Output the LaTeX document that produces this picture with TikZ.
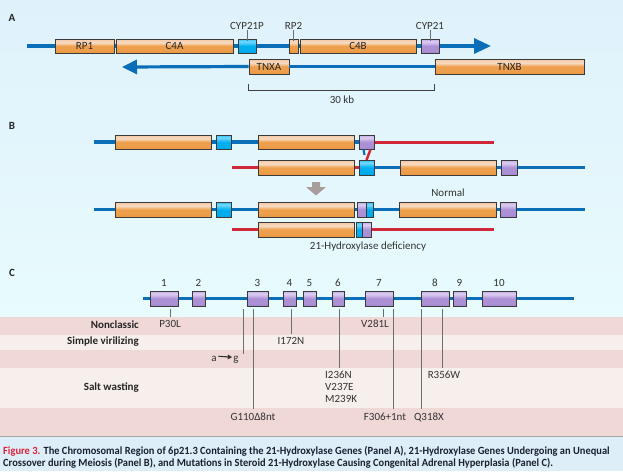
\documentclass[tikz,border=0pt]{standalone}
\usepackage{fontspec}
\setmainfont{Carlito}
\usetikzlibrary{arrows.meta}
\definecolor{bgtop}{HTML}{DFF1FB}
\definecolor{bgbot}{HTML}{E8FBFD}
\definecolor{pinkband}{HTML}{EFD8D6}
\definecolor{lightband}{HTML}{F7EFEC}
\definecolor{capbg}{HTML}{DDEEF9}
\definecolor{chrblue}{HTML}{0A6EB8}
\definecolor{chrred}{HTML}{D02838}
\definecolor{boxline}{HTML}{3A3A3A}
\definecolor{tickgray}{HTML}{6E6E6E}
\definecolor{arrgray}{HTML}{A89C9C}
\definecolor{capred}{HTML}{E0203A}
\definecolor{captext}{HTML}{1A2030}
\definecolor{og0}{HTML}{E38A30}
\definecolor{og1}{HTML}{EE9F4C}
\definecolor{og2}{HTML}{F8DCC4}
\definecolor{og3}{HTML}{F2BE96}
\definecolor{bl0}{HTML}{0090D8}
\definecolor{bl1}{HTML}{00AEF0}
\definecolor{bl2}{HTML}{70D8FF}
\definecolor{pu0}{HTML}{9478C4}
\definecolor{pu1}{HTML}{AC90D6}
\definecolor{pu2}{HTML}{DCCDF2}
\pgfdeclareverticalshading{orangeg}{100bp}{color(0bp)=(og0); color(38bp)=(og1); color(50bp)=(og1); color(62bp)=(og2); color(80bp)=(og3); color(100bp)=(og3)}
\pgfdeclareverticalshading{blueg}{100bp}{color(0bp)=(bl0); color(35bp)=(bl1); color(50bp)=(bl1); color(65bp)=(bl2); color(85bp)=(bl1); color(100bp)=(bl1)}
\pgfdeclareverticalshading{purpleg}{100bp}{color(0bp)=(pu0); color(35bp)=(pu1); color(50bp)=(pu1); color(65bp)=(pu2); color(85bp)=(pu1); color(100bp)=(pu1)}
\begin{document}
\begin{tikzpicture}[x=1pt,y=-1pt,
  font=\fontsize{11}{12}\selectfont,
  gbox/.style={draw=boxline,line width=0.8pt,inner sep=0pt,minimum height=14pt,text=black!85},
  obox/.style={gbox,shading=orangeg},
  cbox/.style={gbox,shading=blueg},
  pbox/.style={gbox,shading=purpleg},
  bline/.style={draw=chrblue,line width=3.2pt},
  rline/.style={draw=chrred,line width=3pt},
  tickl/.style={draw=tickgray,line width=0.8pt},
  lab/.style={inner sep=0pt,text=black!80},
  rowlab/.style={inner sep=0pt,anchor=east,font=\fontsize{11}{12}\selectfont\bfseries,text=black!85},
  panel/.style={inner sep=0pt,font=\fontsize{11}{12}\selectfont\bfseries,text=black!85}]
\useasboundingbox (0,0) rectangle (623,471);
% background
\shade[top color=bgtop,bottom color=bgbot] (0,0) rectangle (623,317);
\fill[pinkband] (0,317) rectangle (623,335);
\fill[lightband] (0,335) rectangle (623,350);
\fill[pinkband] (0,350) rectangle (623,368);
\fill[lightband] (0,368) rectangle (623,408);
\fill[pinkband] (0,408) rectangle (623,436);
\fill[capbg] (0,436) rectangle (623,471);
\draw[draw=black!35,line width=0.8pt] (0,436) -- (623,436);

% ===== Panel A =====
\node[panel] (pA) at (12,18) {A};
\coordinate (a1s) at (27,46);
\coordinate (a1e) at (491,46);
\draw[bline,-{Triangle[length=17pt,width=15pt]}] (a1s) -- (a1e);
\node[obox,minimum width=59pt] (RP1) at (84.5,46) {RP1};
\node[obox,minimum width=117pt] (C4A) at (174.5,46) {C4A};
\node[cbox,minimum width=18pt] (CYP21P) at (247,46) {};
\node[obox,minimum width=9pt] (RP2) at (293.5,46) {};
\node[obox,minimum width=116pt] (C4B) at (358,46) {C4B};
\node[pbox,minimum width=18pt] (CYP21) at (430,46) {};
\node[lab,anchor=south] (lCYP21P) at (247,30) {CYP21P};
\node[lab,anchor=south] (lRP2) at (293.5,30) {RP2};
\node[lab,anchor=south] (lCYP21) at (430,30) {CYP21};
\draw[tickl] (lCYP21P.south) -- ([yshift=-2pt]CYP21P.north);
\draw[tickl] (lRP2.south) -- ([yshift=-2pt]RP2.north);
\draw[tickl] (lCYP21.south) -- ([yshift=-2pt]CYP21.north);
\coordinate (a2s) at (122,67);
\node[obox,minimum width=40pt,minimum height=15pt] (TNXA) at (269,66.5) {TNXA};
\node[obox,minimum width=149pt,minimum height=15pt] (TNXB) at (509.5,66.5) {TNXB};
\draw[bline,{Triangle[length=15pt,width=14pt]}-] (a2s) -- (TNXA.west);
\draw[bline] (TNXA.east) -- (TNXB.west);
\draw[line width=0.9pt,draw=black!75] ([yshift=-10pt]TNXA.south west) |- ([yshift=-16pt]TNXB.south west) -- ([yshift=-10pt]TNXB.south west);
\node[lab] (kb) at (342,100) {30 kb};

% ===== Panel B =====
\node[panel] (pB) at (12,126) {B};
% row 1
\coordinate (r1s) at (94,142);
\coordinate (r1e) at (494,142);
\draw[bline] (r1s) -- (366,142);
\draw[rline] (366,142) -- (r1e);
\node[obox,minimum width=96pt] (b1o1) at (163,142) {};
\node[cbox,minimum width=15pt] (b1c) at (223.5,142) {};
\node[obox,minimum width=96pt] (b1o2) at (306,142) {};
\node[pbox,minimum width=15pt] (b1p) at (366.5,142) {};
% row 2
\coordinate (r2s) at (232,167.5);
\coordinate (r2e) at (585,167.5);
\draw[rline] (r2s) -- (300,167.5);
\draw[rline] (354,167.5) -- (366,167.5);
\draw[bline] (366,167.5) -- (r2e);
\node[obox,minimum width=96pt,minimum height=15pt] (b2o2) at (306,167.5) {};
\node[obox,minimum width=96pt,minimum height=15pt] (b2o3) at (448,167.5) {};
\node[pbox,minimum width=16pt,minimum height=15pt] (b2p) at (509,167.5) {};
% crossover
\draw[draw=chrblue,line width=2.2pt] (363.5,149.5) -- (364.5,155);
\draw[draw=chrred,line width=2.5pt] (370.5,149.5) -- (366.5,160);
\node[cbox,minimum width=15pt,minimum height=15pt] (b2c) at (366.5,167.5) {};
% gray arrow
\fill[arrgray] (312,182) -- (320,182) -- (320,187) -- (326,187) -- (316,195.5) -- (306,187) -- (312,187) -- cycle;
\node[lab] (lnormal) at (448,193) {Normal};
% row 3
\coordinate (r3s) at (94,209.5);
\coordinate (r3e) at (585,209.5);
\draw[bline] (r3s) -- (r3e);
\node[obox,minimum width=96pt,minimum height=15pt] (b3o1) at (163,209.5) {};
\node[cbox,minimum width=15pt,minimum height=15pt] (b3c) at (223.5,209.5) {};
\node[obox,minimum width=96pt,minimum height=15pt] (b3o2) at (306,209.5) {};
\node[pbox,minimum width=9pt,minimum height=15pt] (b3p) at (362,209.5) {};
\node[cbox,minimum width=7pt,minimum height=15pt] (b3c2) at (370,209.5) {};
\node[obox,minimum width=97pt,minimum height=15pt] (b3o3) at (447.5,209.5) {};
\node[pbox,minimum width=16pt,minimum height=15pt] (b3p2) at (508,209.5) {};
% row 4
\coordinate (r4s) at (232,229.5);
\coordinate (r4e) at (494,229.5);
\draw[rline] (r4s) -- (300,229.5);
\draw[rline] (366,229.5) -- (r4e);
\node[obox,minimum width=96pt,minimum height=15pt] (b4o2) at (306,229.5) {};
\node[cbox,minimum width=7pt,minimum height=15pt] (b4c) at (359.5,229.5) {};
\node[pbox,minimum width=9pt,minimum height=15pt] (b4p) at (367,229.5) {};
\node[lab] (ldef) at (368,247) {21-Hydroxylase deficiency};

% ===== Panel C =====
\node[panel] (pC) at (12,273) {C};
\coordinate (cs) at (143,298.5);
\coordinate (ce) at (574,298.5);
\draw[bline,line width=3pt] (cs) -- (ce);
\foreach \n/\c/\w in {1/164/28,2/198.5/13,3/257.5/21,4/289.5/13,5/309.5/13,6/338/12,7/379/28,8/435/28,9/459.5/13,10/499/34}{
  \node[pbox,minimum width=\w pt,minimum height=15pt] (ex\n) at (\c,298.5) {};
  \node[lab] (en\n) at (\c,283) {\n};
}
\node[rowlab] (rNC) at (139,325) {Nonclassic};
\node[rowlab] (rSV) at (139,342) {Simple virilizing};
\node[rowlab] (rSW) at (139,388) {Salt wasting};
% mutations
\node[lab,anchor=north] (mP30L) at (170,320) {P30L};
\coordinate (tP30L) at (170,309);
\draw[tickl] (tP30L) -- (170,317);
\node[lab,anchor=north] (mI172N) at (291,337) {I172N};
\coordinate (tI172N) at (291,309);
\draw[tickl] (tI172N) -- (291,333.5);
\node[lab,anchor=base] (ma) at (214,361.5) {a};
\node[lab,anchor=base] (mg) at (236,361.5) {g};
\draw[-{Triangle[length=4.5pt,width=4.5pt]},line width=1.1pt,draw=black!80] ([xshift=1.5pt,yshift=2.6pt]ma.east) -- ([xshift=-1pt,yshift=2.6pt]mg.west);
\coordinate (tag) at (243,309);
\coordinate (bag) at (243,354);
\draw[tickl] (tag) -- (bag);
\node[lab,anchor=north] (mG110) at (253,412.5) {G110Δ8nt};
\coordinate (tG110) at (253,309);
\draw[tickl] (tG110) -- (253,409);
\node[lab,anchor=north west,align=left,font=\fontsize{11}{11.7}\selectfont] (mI236) at (325,371) {I236N\\V237E\\M239K};
\coordinate (tI236) at (339,309);
\draw[tickl] (tI236) -- (339,367.5);
\node[lab,anchor=north] (mV281L) at (375,320) {V281L};
\coordinate (tV281L) at (383,309);
\draw[tickl] (tV281L) -- (383,317);
\node[lab,anchor=north] (mF306) at (385,412.5) {F306+1nt};
\coordinate (tF306) at (393,309);
\draw[tickl] (tF306) -- (393,409);
\node[lab,anchor=north] (mQ318X) at (429,412.5) {Q318X};
\coordinate (tQ318X) at (421,309);
\draw[tickl] (tQ318X) -- (421,409);
\node[lab,anchor=north] (mR356W) at (444,370.5) {R356W};
\coordinate (tR356W) at (442,309);
\draw[tickl] (tR356W) -- (442,367.5);

% ===== Caption =====
\node[anchor=base west,inner sep=0pt,align=left,font=\fontsize{11}{11.3}\selectfont\bfseries,text=captext] (cap) at (3,466)
 {\scalebox{0.95}[1]{\textcolor{capred}{Figure 3.} The Chromosomal Region of 6p21.3 Containing the 21-Hydroxylase Genes (Panel A), 21-Hydroxylase Genes Undergoing an Unequal}\\
 \scalebox{0.95}[1]{Crossover during Meiosis (Panel B), and Mutations in Steroid 21-Hydroxylase Causing Congenital Adrenal Hyperplasia (Panel C).}};
\end{tikzpicture}
\end{document}
